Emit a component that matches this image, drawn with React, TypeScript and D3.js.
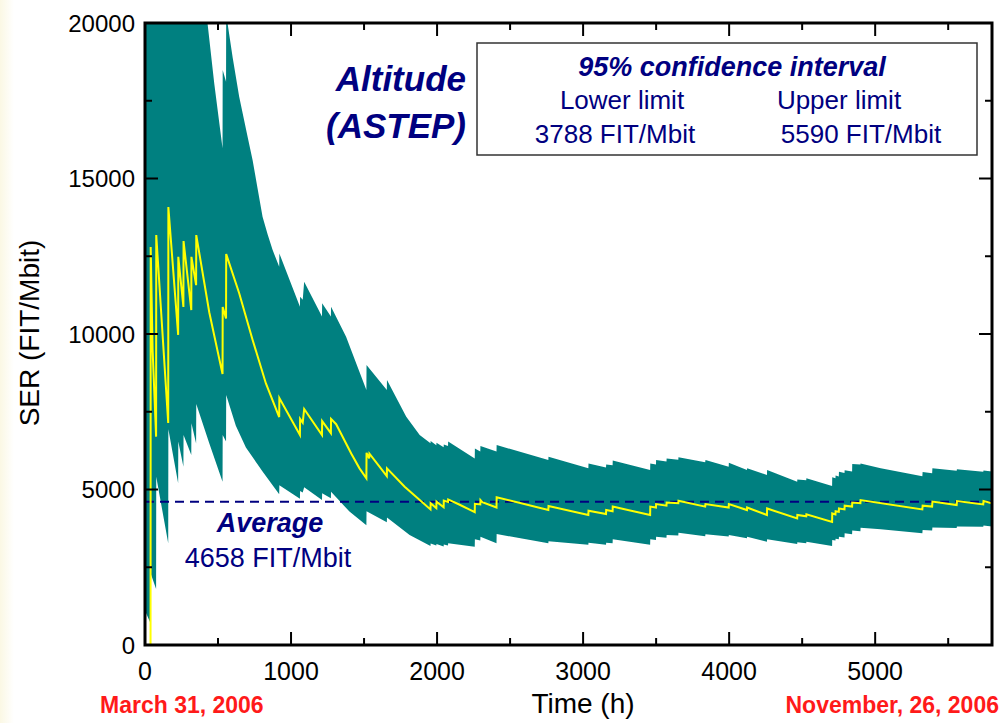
import React from 'react';
import * as d3 from 'd3';

// ---- data (time in hours, SER in FIT/Mbit) ----
const meanSeries: [number, number][] = [
  [38, 0], [39, 12800], [52, 9500], [76, 6700], [77, 13180], [159, 7140], [160, 14080],
  [227, 9970], [228, 12480], [263, 10870], [264, 12990], [317, 10770], [318, 12480],
  [350, 11570], [351, 13180], [440, 10700], [531, 8710], [532, 10870], [555, 10500],
  [556, 12570], [645, 11310], [737, 9810], [828, 8410], [919, 7330], [920, 7940],
  [1061, 6750], [1062, 7270], [1080, 7150], [1090, 7590], [1212, 6750], [1213, 7200],
  [1273, 6810], [1274, 7270], [1309, 7100], [1412, 6160], [1469, 5680], [1516, 5360],
  [1517, 6180], [1535, 6000], [1537, 6150], [1656, 5430], [1657, 5680], [1778, 5090],
  [1955, 4360], [1956, 4560], [1995, 4400], [1996, 4610], [2045, 4430], [2046, 4640],
  [2075, 4600], [2076, 4680], [2155, 4510], [2258, 4270], [2259, 4540], [2296, 4520],
  [2297, 4660], [2310, 4590], [2407, 4420], [2408, 4750], [2762, 4340], [2763, 4470],
  [3036, 4180], [3037, 4320], [3157, 4210], [3158, 4340], [3202, 4300], [3203, 4450],
  [3459, 4180], [3460, 4450], [3499, 4420], [3500, 4530], [3571, 4480], [3572, 4580],
  [3652, 4560], [3653, 4640], [3836, 4450], [3838, 4530], [3997, 4420], [3998, 4530],
  [4122, 4340], [4123, 4420], [4259, 4180], [4260, 4390], [4466, 4070], [4467, 4180],
  [4528, 4140], [4529, 4200], [4705, 3960], [4706, 4230], [4728, 4200], [4729, 4300],
  [4751, 4280], [4752, 4390], [4790, 4360], [4791, 4480], [4842, 4450], [4843, 4580],
  [4899, 4560], [4900, 4660], [5323, 4360], [5325, 4480], [5390, 4450], [5392, 4610],
  [5558, 4500], [5560, 4630], [5740, 4520], [5742, 4630], [5800, 4560],
];

// upper 95% limit (values above 20000 are off the scale and clipped)
const upperSeries: [number, number][] = [
  [0, 45000], [38, 45000], [39, 60000], [76, 40000], [77, 45000], [159, 30000], [160, 35000],
  [227, 27000], [228, 30000], [263, 28000], [264, 30000], [317, 26500], [318, 28000],
  [350, 24500], [351, 24400], [428, 20000], [474, 18060], [531, 15970], [532, 18490],
  [555, 18110], [556, 20300], [565, 20000], [600, 18900], [645, 17630], [700, 16400],
  [737, 15590], [770, 14700], [805, 13770], [840, 13200],
  [874, 12700], [919, 12160], [920, 12590], [1061, 10880], [1062, 11200], [1080, 11100],
  [1090, 11680], [1212, 10560], [1213, 10990], [1273, 10560], [1274, 10880], [1377, 9910],
  [1446, 9060], [1516, 8200], [1517, 9000], [1656, 8200], [1657, 8520], [1789, 7340],
  [1881, 6750], [1955, 6490], [1956, 6560], [1995, 6420], [1996, 6500], [2045, 6360],
  [2046, 6450], [2075, 6400], [2076, 6540], [2258, 6000], [2259, 6320], [2296, 6220],
  [2297, 6400], [2407, 6220], [2408, 6430], [2762, 5950], [2763, 6050], [3036, 5680],
  [3037, 5840], [3157, 5710], [3158, 5800], [3202, 5780], [3203, 5930], [3459, 5630],
  [3460, 5840], [3499, 5800], [3500, 5950], [3571, 5900], [3572, 6000], [3652, 5960],
  [3653, 6040], [3836, 5880], [3838, 5950], [3997, 5730], [3998, 5860], [4122, 5630],
  [4123, 5680], [4259, 5470], [4260, 5630], [4466, 5250], [4467, 5320], [4528, 5300],
  [4529, 5360], [4705, 5110], [4706, 5390], [4728, 5360], [4729, 5450], [4751, 5420],
  [4752, 5570], [4790, 5530], [4791, 5620], [4842, 5580], [4843, 5820], [4899, 5800],
  [4900, 5840], [5038, 5680], [5323, 5430], [5325, 5560], [5390, 5520], [5392, 5680],
  [5558, 5600], [5560, 5650], [5740, 5570], [5742, 5610], [5800, 5580],
];

// lower 95% limit
const lowerSeries: [number, number][] = [
  [0, 1100], [38, 700], [39, 2300], [76, 1800], [77, 5410], [159, 3270], [160, 6940],
  [227, 5200], [228, 6540], [263, 5730], [264, 6750], [317, 6110], [318, 7130],
  [350, 6480], [351, 7750], [440, 6490], [531, 5250], [532, 6750], [555, 6540],
  [556, 8040], [622, 7050], [691, 6350], [805, 5580], [919, 4850], [920, 5140],
  [1061, 4700], [1062, 4950], [1080, 4900], [1090, 5070], [1212, 4660], [1213, 4880],
  [1273, 4720], [1274, 4930], [1400, 4290], [1516, 3850], [1517, 4300], [1656, 3950],
  [1657, 4100], [1812, 3540], [1955, 3180], [1956, 3260], [1995, 3200], [1996, 3250],
  [2045, 3170], [2046, 3230], [2075, 3200], [2076, 3270], [2258, 3160], [2259, 3400],
  [2296, 3360], [2297, 3480], [2407, 3270], [2408, 3570], [2762, 3270], [2763, 3340],
  [3036, 3220], [3037, 3290], [3157, 3220], [3158, 3290], [3202, 3270], [3203, 3400],
  [3459, 3220], [3460, 3400], [3499, 3380], [3500, 3480], [3571, 3450], [3572, 3540],
  [3652, 3520], [3653, 3610], [3836, 3500], [3838, 3560], [3997, 3490], [3998, 3540],
  [4122, 3430], [4123, 3480], [4259, 3320], [4260, 3400], [4466, 3250], [4467, 3300],
  [4528, 3270], [4529, 3320], [4705, 3180], [4706, 3380], [4728, 3360], [4729, 3420],
  [4751, 3400], [4752, 3480], [4790, 3460], [4791, 3590], [4842, 3560], [4843, 3680],
  [4899, 3660], [4900, 3770], [5038, 3720], [5323, 3590], [5325, 3700], [5390, 3680],
  [5392, 3780], [5558, 3760], [5560, 3810], [5740, 3800], [5742, 3840], [5800, 3810],
];

const xMajorTicks = [0, 1000, 2000, 3000, 4000, 5000];
const xMinorTicks = [500, 1500, 2500, 3500, 4500, 5500];
const yMajorTicks = [0, 5000, 10000, 15000, 20000];
const yMinorTicks = [2500, 7500, 12500, 17500];
const xDomain = [0, 5800];
const yDomain = [0, 20000];
const averageLine = 4610;

const titleLines = ['Altitude', '(ASTEP)'];
const ciTitle = '95% confidence interval';
const ciHeaders = ['Lower limit', 'Upper limit'];
const ciValues = ['3788 FIT/Mbit', '5590 FIT/Mbit'];
const averageTitle = 'Average';
const averageValueText = '4658 FIT/Mbit';
const xLabel = 'Time (h)';
const yLabel = 'SER (FIT/Mbit)';
const startDate = 'March 31, 2006';
const endDate = 'November, 26, 2006';

const FONT = '"Liberation Sans", Arial, Helvetica, sans-serif';
const NAVY = '#000080';

export default function App() {
  const W = 1007;
  const H = 723;
  const L = 145, R = 992, T = 23, B = 645;
  const x = d3.scaleLinear().domain(xDomain).range([L, R]);
  const y = d3.scaleLinear().domain(yDomain).range([B, T]);
  const line = d3.line<[number, number]>().x((d) => x(d[0])).y((d) => y(d[1]));
  const band = [...upperSeries, ...lowerSeries.slice().reverse()];
  const bandPath = (line(band) || '') + 'Z';
  const meanPath = line(meanSeries) || '';

  return (
    <svg width={W} height={H} style={{ position: 'absolute', left: 0, top: 0, background: '#fff' }}
      fontFamily={FONT}>
      <defs>
        <clipPath id="plotClip">
          <rect x={L} y={T} width={R - L} height={B - T} />
        </clipPath>
        <linearGradient id="edge" x1="0" x2="1" y1="0" y2="0">
          <stop offset="0" stopColor="#fbf8e4" />
          <stop offset="1" stopColor="#ffffff" />
        </linearGradient>
      </defs>
      <rect x={0} y={0} width={W} height={H} fill="#fff" />
      <rect x={0} y={0} width={14} height={H} fill="url(#edge)" />

      <g clipPath="url(#plotClip)">
        <path d={bandPath} fill="#008080" stroke="none" />
        <line x1={L} x2={R} y1={y(averageLine)} y2={y(averageLine)} stroke={NAVY}
          strokeWidth={2} strokeDasharray="9,6" />
        <path d={meanPath} fill="none" stroke="#ffff00" strokeWidth={2} strokeLinejoin="miter" />
      </g>

      {/* ticks */}
      <g stroke="#000" strokeWidth={2}>
        {xMajorTicks.map((t) => (
          <g key={'xM' + t}>
            <line x1={x(t)} x2={x(t)} y1={B} y2={B - 13} />
            <line x1={x(t)} x2={x(t)} y1={T} y2={T + 13} />
          </g>
        ))}
        {xMinorTicks.map((t) => (
          <g key={'xm' + t}>
            <line x1={x(t)} x2={x(t)} y1={B} y2={B - 7} />
            <line x1={x(t)} x2={x(t)} y1={T} y2={T + 7} />
          </g>
        ))}
        {yMajorTicks.map((t) => (
          <g key={'yM' + t}>
            <line x1={L} x2={L + 13} y1={y(t)} y2={y(t)} />
            <line x1={R} x2={R - 13} y1={y(t)} y2={y(t)} />
          </g>
        ))}
        {yMinorTicks.map((t) => (
          <g key={'ym' + t}>
            <line x1={L} x2={L + 7} y1={y(t)} y2={y(t)} />
            <line x1={R} x2={R - 7} y1={y(t)} y2={y(t)} />
          </g>
        ))}
      </g>
      <rect x={L} y={T} width={R - L} height={B - T} fill="none" stroke="#000" strokeWidth={3} />

      {/* tick labels */}
      {yMajorTicks.map((t) => (
        <text key={'yl' + t} x={L - 10} y={y(t)} dy="0.36em" textAnchor="end" fontSize={24} fill="#000">
          {t}
        </text>
      ))}
      {xMajorTicks.map((t) => (
        <text key={'xl' + t} x={x(t)} y={680} textAnchor="middle" fontSize={25} fill="#000">
          {t}
        </text>
      ))}

      {/* axis titles */}
      <text x={583} y={713} textAnchor="middle" fontSize={28} fill="#000">{xLabel}</text>
      <text transform="translate(39,333) rotate(-90)" textAnchor="middle" fontSize={28} fill="#000">{yLabel}</text>
      <text x={100} y={713} fontSize={23} fontWeight="bold" fill="#ff1a1a">{startDate}</text>
      <text x={999} y={713} textAnchor="end" fontSize={23} fontWeight="bold" fill="#ff1a1a">{endDate}</text>

      {/* title */}
      <text textAnchor="end" fontSize={35} fontWeight="bold" fontStyle="italic" fill={NAVY}>
        <tspan x={466} y={91}>{titleLines[0]}</tspan>
        <tspan x={466} y={138}>{titleLines[1]}</tspan>
      </text>

      {/* CI box */}
      <rect x={477} y={43} width={500} height={112} fill="#fff" stroke="#333" strokeWidth={1.5} />
      <text x={732} y={76} textAnchor="middle" fontSize={27} fontWeight="bold" fontStyle="italic" fill={NAVY}>{ciTitle}</text>
      <text x={622} y={109} textAnchor="middle" fontSize={26} fill={NAVY}>{ciHeaders[0]}</text>
      <text x={839} y={109} textAnchor="middle" fontSize={26} fill={NAVY}>{ciHeaders[1]}</text>
      <text x={615} y={143} textAnchor="middle" fontSize={26} fill={NAVY}>{ciValues[0]}</text>
      <text x={861} y={143} textAnchor="middle" fontSize={26} fill={NAVY}>{ciValues[1]}</text>

      {/* average label */}
      <text x={270} y={532} textAnchor="middle" fontSize={27} fontWeight="bold" fontStyle="italic" fill={NAVY}>{averageTitle}</text>
      <text x={268} y={567} textAnchor="middle" fontSize={27} fill={NAVY}>{averageValueText}</text>
    </svg>
  );
}
